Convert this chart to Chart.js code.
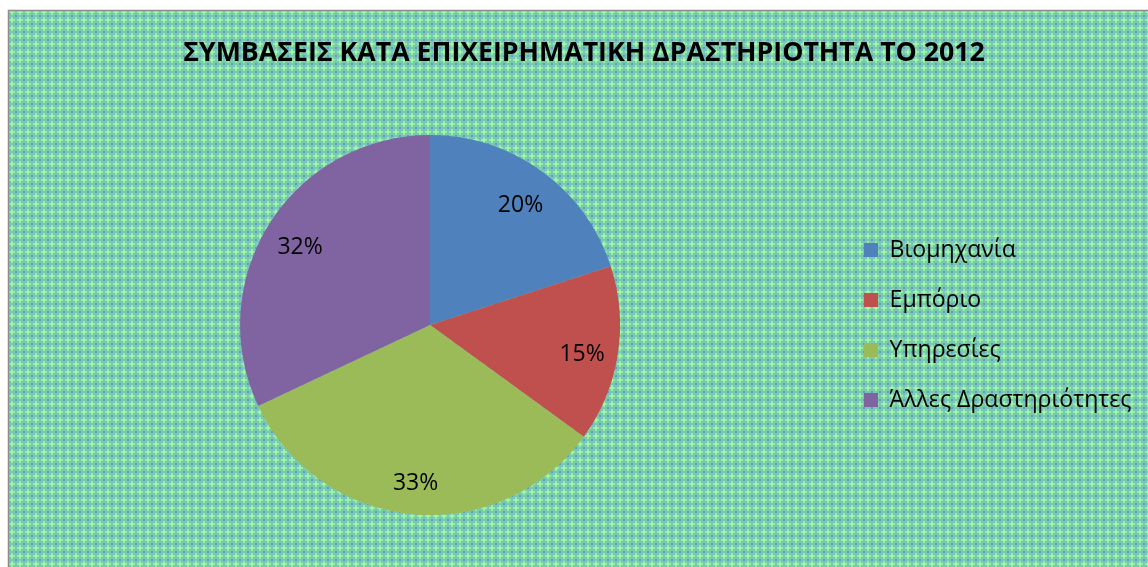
<!DOCTYPE html>
<html>
<head>
<meta charset="utf-8">
<script src="https://cdn.jsdelivr.net/npm/chart.js@4.4.0/dist/chart.umd.min.js"></script>
<style>
html,body{margin:0;padding:0;background:#fff;}
#wrap{width:1148px;height:567px;}
</style>
</head>
<body>
<div id="wrap"><canvas id="pieChart" width="1148" height="567"></canvas></div>
<script>
const titleText = "ΣΥΜΒΑΣΕΙΣ ΚΑΤΑ ΕΠΙΧΕΙΡΗΜΑΤΙΚΗ ΔΡΑΣΤΗΡΙΟΤΗΤΑ ΤΟ 2012"
const categories = ["Βιομηχανία","Εμπόριο","Υπηρεσίες","Άλλες Δραστηριότητες"]
const shares = [20,15,33,32]
const sliceColors = ["#4F81BD","#C0504D","#9BBB59","#8064A2"]

const fontFamily = "'Open Sans'"
Chart.defaults.font.family = fontFamily
Chart.defaults.color = "#000"

// size fonts so the text runs as wide as in the picture
const measure = document.createElement("canvas").getContext("2d")
function fitFont(text, weight, target){
measure.font = weight + " 100px " + fontFamily
return 100 * target / measure.measureText(text).width
}

const titleSize = fitFont(titleText, "bold", 802)
const legendSize = fitFont(categories[3], "normal", 242)
const labelSize = 23

const padLeft = 23
const padRight = 3
const legendPad = 50 - legendSize
const legendBox = 14
const legendLeft = 864 - legendPad

measure.font = legendSize + "px " + fontFamily
const longest = Math.max(...categories.map(c => measure.measureText(c).width))
const legendWidth = legendPad + legendBox + legendSize/2 + longest + 10
const spacerWidth = Math.max(0, 1148 - padRight - legendLeft - legendWidth)

const titleLine = titleSize * 1.2
const titleTop = 53 - titleLine/2
const titleBottom = 135 - titleTop - titleLine

function makePattern(ctx){
const tile = document.createElement("canvas")
tile.width = 8
tile.height = 8
const t = tile.getContext("2d")
t.fillStyle = "#78c8b4"
t.fillRect(0,0,8,8)
t.fillStyle = "#93eda3"
t.fillRect(3,1,2,6)
t.fillRect(1,3,6,2)
t.fillStyle = "#a4fca8"
t.fillRect(3,3,2,2)
t.fillStyle = "#6499cf"
t.fillRect(0,0,1,1)
t.fillRect(7,0,1,1)
t.fillRect(0,7,1,1)
t.fillRect(7,7,1,1)
return ctx.createPattern(tile, "repeat")
}

const background = {
id:"background",
beforeDraw(chart){
const ctx = chart.ctx
ctx.save()
ctx.fillStyle = "#fff"
ctx.fillRect(0,0,chart.width,chart.height)
ctx.fillStyle = makePattern(ctx)
ctx.fillRect(9,11,chart.width-9,chart.height-11)
ctx.strokeStyle = "#8c8c8c"
ctx.lineWidth = 1.5
ctx.beginPath()
ctx.moveTo(8.5,chart.height)
ctx.lineTo(8.5,10.5)
ctx.lineTo(chart.width,10.5)
ctx.stroke()
ctx.restore()
}
}

// empty box on the right so the legend sits where the picture has it
const legendSpacer = {
id:"legendSpacer",
beforeInit(chart){
Chart.layouts.addBox(chart,{
position:"right",
weight:2000,
fullSize:false,
options:{},
isHorizontal(){ return false },
update(maxWidth, maxHeight){
this.width = spacerWidth
this.height = maxHeight
},
draw(){}
})
}
}

const sliceLabels = {
id:"sliceLabels",
afterDatasetsDraw(chart){
const ctx = chart.ctx
const meta = chart.getDatasetMeta(0)
const total = shares.reduce((a,b) => a+b, 0)
ctx.save()
ctx.font = labelSize + "px " + fontFamily
ctx.fillStyle = "#000"
ctx.textAlign = "center"
ctx.textBaseline = "alphabetic"
meta.data.forEach((arc,i) => {
const p = arc.getProps(["x","y","startAngle","endAngle","outerRadius"], true)
const mid = (p.startAngle + p.endAngle) / 2
const r = p.outerRadius * 0.81
ctx.fillText(Math.round(shares[i] / total * 100) + "%", p.x + Math.cos(mid) * r, p.y + Math.sin(mid) * r + labelSize * 0.5)
})
ctx.restore()
}
}

new Chart(
document.getElementById("pieChart"),
{
type:"pie",
data:{
labels:categories,
datasets:[{
data:shares,
backgroundColor:sliceColors,
borderWidth:0
}]
},
options:{
responsive:false,
animation:false,
devicePixelRatio:1,
layout:{
padding:{left:padLeft, right:padRight, top:0, bottom:52}
},
plugins:{
title:{
display:true,
text:titleText,
color:"#000",
font:{size:titleSize, weight:"bold"},
padding:{top:titleTop, bottom:titleBottom}
},
legend:{
position:"right",
fullSize:false,
maxWidth:600,
labels:{
color:"#000",
font:{size:legendSize},
boxWidth:legendBox,
boxHeight:legendBox,
padding:legendPad
}
},
tooltip:{enabled:false}
}
},
plugins:[background, legendSpacer, sliceLabels]
}
)
</script>
</body>
</html>
